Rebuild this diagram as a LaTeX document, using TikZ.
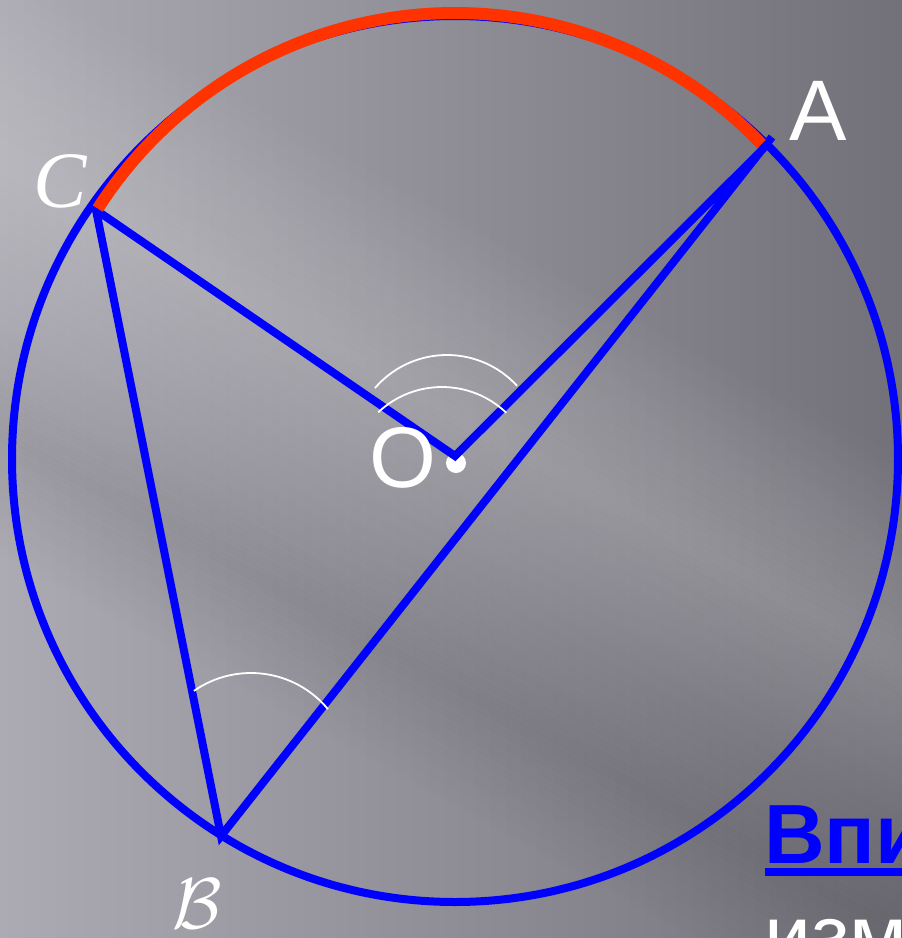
\documentclass[tikz,border=0pt]{standalone}
\usepackage{fontspec}
\setmainfont{Liberation Sans}
\newfontfamily\tnr{Liberation Serif}
\usepackage{graphicx}
\usetikzlibrary{calc}
\definecolor{bgL}{RGB}{172,170,178}
\definecolor{bgR}{RGB}{114,112,120}
\definecolor{pblue}{RGB}{0,0,255}
\definecolor{pred}{RGB}{255,51,0}
\tikzset{
  figline/.style={draw=pblue, line width=8pt},
  redarc/.style={draw=pred, line width=12pt},
  anglearc/.style={draw=white, line width=1.8pt},
  lbl/.style={text=white, inner sep=0pt, anchor=base},
  bigsans/.style={font=\fontsize{86}{86}\selectfont},
  txtline/.style={anchor=base west, inner sep=0pt, font=\fontsize{84}{84}\selectfont},
  underl/.style={draw=pblue, line width=8pt},
}
\begin{document}
\begin{tikzpicture}[x=1pt,y=-1pt]
\useasboundingbox (0,0) rectangle (902,938);
% background
\begin{scope}
\clip (0,0) rectangle (902,938);
\shade[left color=bgL, right color=bgR] (0,0) rectangle (902,938);
\foreach \sa/\da/\sb/\db in {330/0/440/-12, 440/-12/540/0, 540/0/600/8, 600/8/680/18, 680/18/760/12, 760/12/860/0} {
  \pgfmathtruncatemacro\nn{(\sb-\sa)/5}
  \foreach \k in {1,...,\nn} {
    \pgfmathsetmacro\sl{\sa+(\k-1)*(\sb-\sa)/\nn}
    \pgfmathsetmacro\sh{\sa+\k*(\sb-\sa)/\nn}
    \pgfmathsetmacro\dd{\da+(\db-\da)*(\k-0.5)/\nn}
    \ifdim\dd pt>0pt
      \pgfmathsetmacro\op{abs(\dd)/110}
      \def\stc{white}
    \else
      \pgfmathsetmacro\op{abs(\dd)/140}
      \def\stc{black}
    \fi
    \fill[\stc, fill opacity=\op]
      ({-520*0.875+\sl*0.484},{938-520*0.484-\sl*0.875}) --
      ({860*0.875+\sl*0.484},{938+860*0.484-\sl*0.875}) --
      ({860*0.875+\sh*0.484},{938+860*0.484-\sh*0.875}) --
      ({-520*0.875+\sh*0.484},{938-520*0.484-\sh*0.875}) -- cycle;
  }
}
\end{scope}
% geometry
\coordinate (Oc) at (455,459);
\coordinate (Ov) at (455,456);
\coordinate (C) at (96,210);
\coordinate (A) at (764,148);
\coordinate (At) at (772,137);
\coordinate (B) at (221,836);
\coordinate (Rc) at (455,437);
\coordinate (oi) at (442,480);
\coordinate (oo) at (447,450);
\coordinate (bc) at (251,773);
\draw[figline] (Oc) circle[radius=443];
\node[circle, fill=white, inner sep=0pt, minimum size=20pt] (dot) at (456,463) {};
\draw[figline] (At) -- (B) -- (C) -- (Ov) -- (A);
\draw[redarc] ([shift={(-147.4:424)}]Rc) arc[start angle=-147.4, end angle=-43.7, radius=424];
% labels
\node[lbl, bigsans] (Albl) at (818,140) {A};
\node[lbl, bigsans] (Olbl) at (403,487) {O};
\node[lbl, font=\tnr\itshape\fontsize{80}{80}\selectfont] (Clbl) at (60,207) {C};
\node[lbl] (Blbl) at (197,928) {\scalebox{7.2}{$\mathcal{B}$}};
% angle arcs
\draw[anglearc] ([shift={(-133.3:93)}]oi) arc[start angle=-133.3, end angle=-46.3, radius=93];
\draw[anglearc] ([shift={(-139.3:95)}]oo) arc[start angle=-139.3, end angle=-42.5, radius=95];
\draw[anglearc] ([shift={(-124.8:100)}]bc) arc[start angle=-124.8, end angle=-39.7, radius=100];
% text
\node[txtline, text=pblue, font=\bfseries\fontsize{84}{84}\selectfont] (vpi) at (764,863) {Впи};
\draw[underl] ($(vpi.base west)+(1,9)$) -- ($(vpi.base east)+(0,9)$);
\node[txtline, text=white] (izm) at (764,964) {изм};
\end{tikzpicture}
\end{document}
